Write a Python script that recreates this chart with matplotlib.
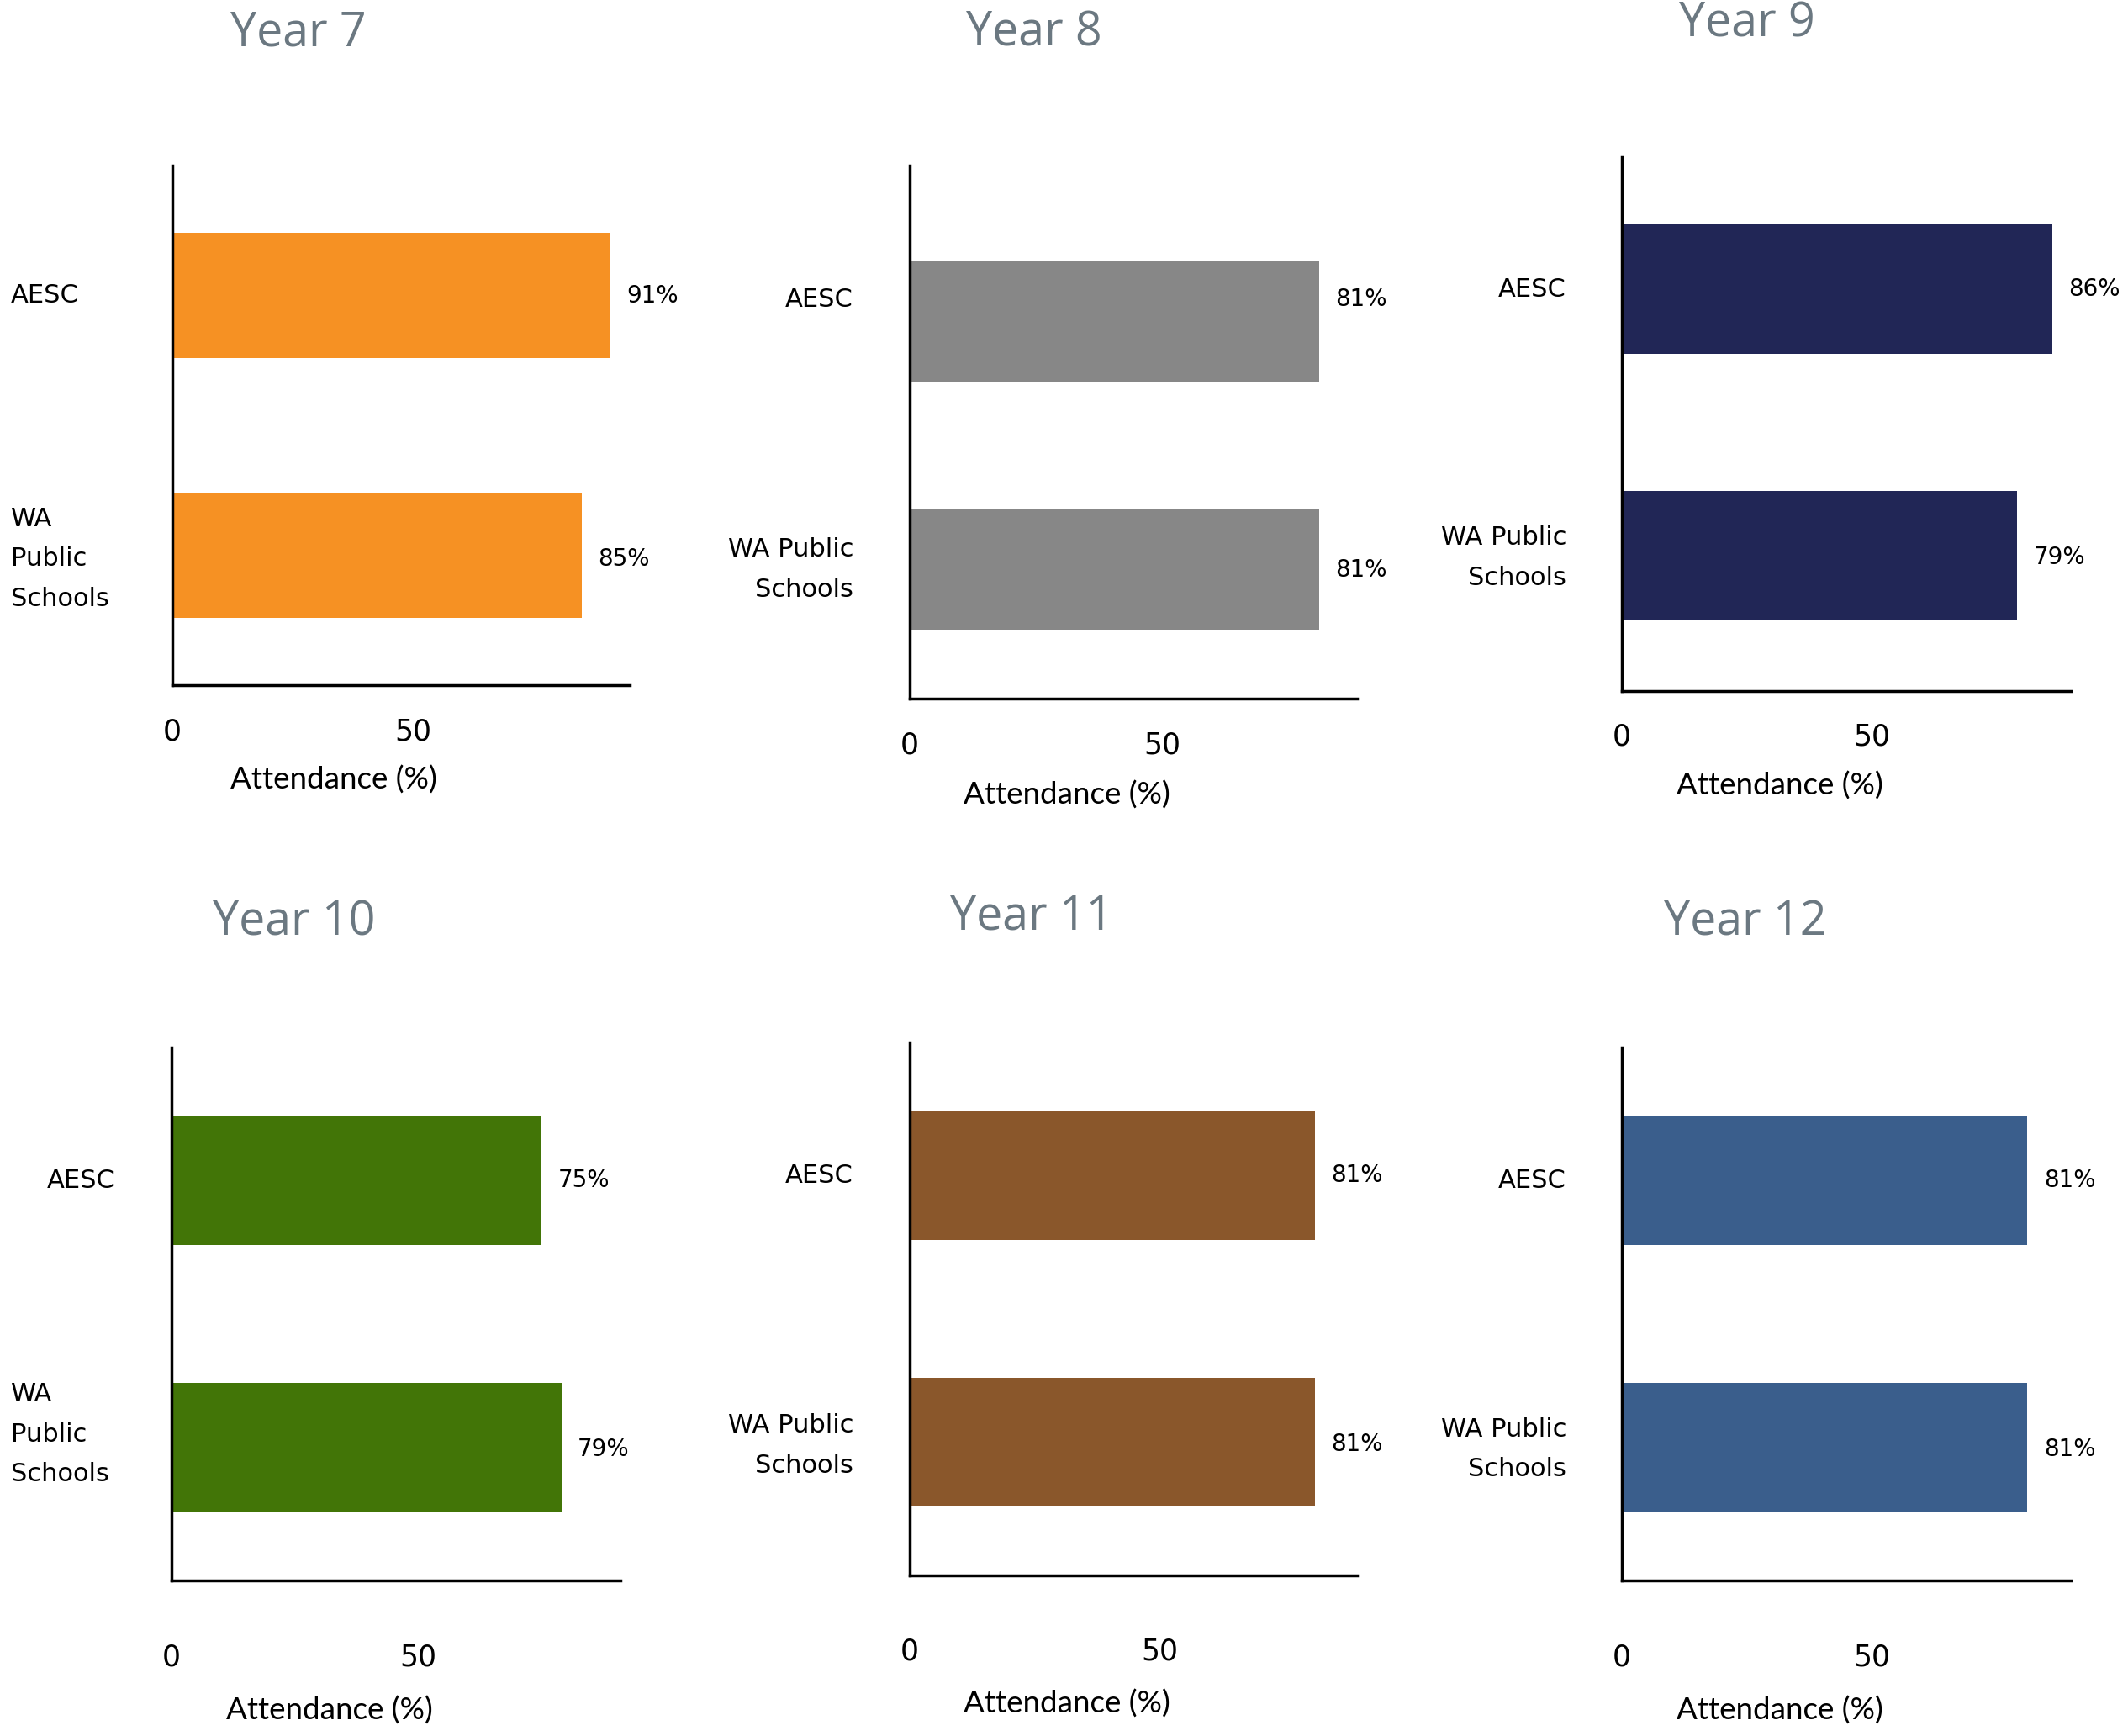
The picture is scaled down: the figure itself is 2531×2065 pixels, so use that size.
import matplotlib
matplotlib.use("Agg")
from matplotlib import pyplot as plt
from matplotlib import font_manager
from matplotlib import transforms

years = ["Year 7", "Year 8", "Year 9", "Year 10", "Year 11", "Year 12"]
groups = ["AESC", "WA Public Schools"]
aesc = [91, 81, 86, 75, 81, 81]
wa_public = [85, 81, 79, 79, 81, 81]
colors = ["#F69123", "#878787", "#212656", "#427507", "#8A572B", "#3A5E8C"]

W, H = 2531, 2065

# axes boxes in pixels: left, top, right, bottom
boxes = [(205, 197, 749, 815), (1082, 197, 1614, 831), (1929, 186, 2463, 822),
         (204, 1246, 738, 1880), (1082, 1240, 1614, 1874), (1929, 1246, 2463, 1880)]
xmax = [95, 88.5, 89.7, 91, 89.4, 89.7]
ylims = [(-0.5, 1.5), (-0.52, 1.63), (-0.51, 1.5), (-0.5, 1.5), (-0.5, 1.5), (-0.5, 1.5)]
title_pos = [(355, 40), (1230, 40), (2078, 29), (350, 1098), (1227, 1091), (2076, 1098)]
tick_pad = [28, 28, 27, 54, 53, 54]
xlabel_drop = [113, 115, 113, 155, 153, 155]
# category label anchors: (x px, ha) for AESC and WA rows
cat_anchor = [((13, "left"), (13, "left")), ((1015, "right"), (1015, "right")),
              ((1863, "right"), (1863, "right")), ((56, "left"), (13, "left")),
              ((1015, "right"), (1015, "right")), ((1863, "right"), (1863, "right"))]
# small vertical nudges (points) for AESC row / WA row labels
nudge_cat = [(0, -3), (19, 0), (0, -2), (0, 11), (0, -3), (0, -2)]
nudge_val = [(0, -3), (19, 0), (0, -2), (0, -2), (0, -2), (0, -2)]

names = {f.name for f in font_manager.fontManager.ttflist}
narrow = "Liberation Sans Narrow" if "Liberation Sans Narrow" in names else "Lato"
plt.rcParams["font.family"] = ["DejaVu Sans"]

fig = plt.figure(figsize=(W / 100, H / 100), dpi=100)

for i, year in enumerate(years):
    l, t, r, b = boxes[i]
    ax = fig.add_axes([l / W, 1 - b / H, (r - l) / W, (b - t) / H])
    vals = [aesc[i], wa_public[i]]
    ypos = [1, 0]
    ax.barh(ypos, vals, height=0.485, color=colors[i])
    ax.set_xlim(0, xmax[i])
    ax.set_ylim(*ylims[i])
    ax.set_xticks([0, 50])
    ax.set_yticks([])
    ax.tick_params(axis="x", length=0, pad=tick_pad[i], labelsize=25)
    for s in ["top", "right"]:
        ax.spines[s].set_visible(False)
    for s in ["left", "bottom"]:
        ax.spines[s].set_linewidth(2.5)
        ax.spines[s].set_color("black")

    ax.set_xlabel("Attendance (%)", fontsize=26.5, family=narrow, va="center")
    axh = b - t
    ax.xaxis.set_label_coords(0.352, -xlabel_drop[i] / axh)

    # values at the bar ends
    for v, y, dy in zip(vals, ypos, nudge_val[i]):
        ax.annotate(f"{v}%", (v, y), xytext=(14, dy), textcoords="offset points",
                    ha="left", va="center", fontsize=20)

    # category names left of the axis
    trans = transforms.blended_transform_factory(fig.transFigure, ax.transData)
    cat_text = ["AESC", "WA\nPublic\nSchools" if i in (0, 3) else "WA Public\nSchools"]
    for k, (txt, y) in enumerate(zip(cat_text, ypos)):
        x_px, ha = cat_anchor[i][k]
        ax.annotate(txt, (x_px / W, y), xycoords=trans,
                    xytext=(0, nudge_cat[i][k]), textcoords="offset points",
                    ha=ha, va="center", fontsize=22, linespacing=1.8,
                    multialignment=ha)

    tx, ty = title_pos[i]
    fig.text(tx / W, 1 - ty / H, year, ha="center", va="center",
             fontsize=40, family="Open Sans", color="#6B7881")

fig.savefig("out.png", dpi=100, facecolor="white")
